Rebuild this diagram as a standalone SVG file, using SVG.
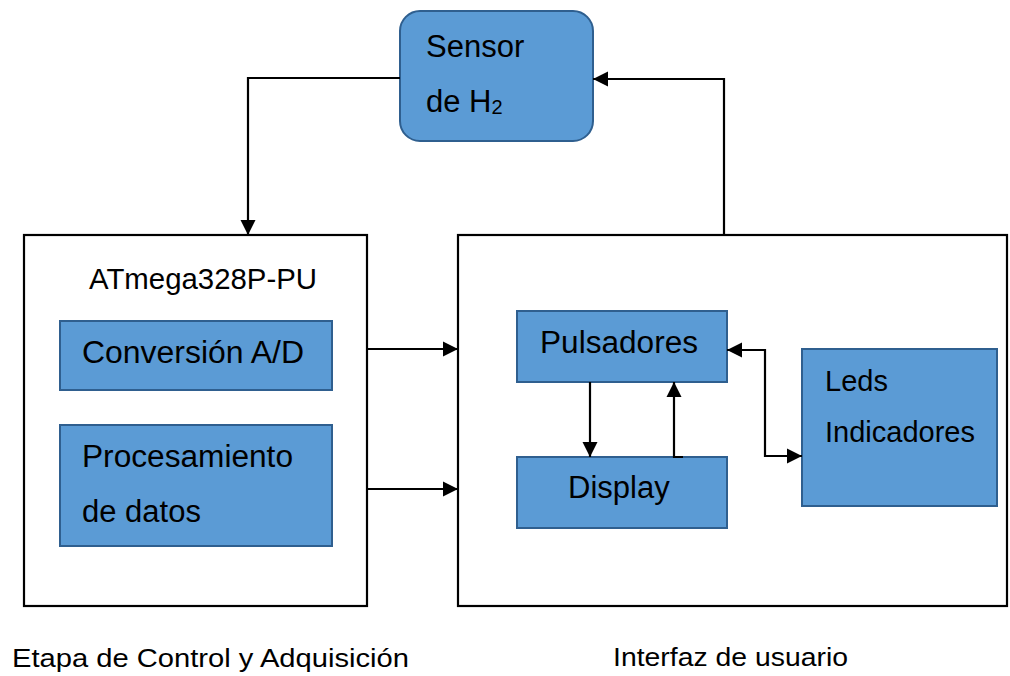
<svg xmlns="http://www.w3.org/2000/svg" width="1010" height="676" viewBox="0 0 1010 676">
<style>
.blk{fill:#5B9BD5;stroke:#2F5F8F;stroke-width:2}
.frame{fill:#FFFFFF;stroke:#000000;stroke-width:2.2}
.t{font-family:"Liberation Sans",Arial,sans-serif;fill:#000000;font-size:31px}
.c{fill:none;stroke:#000000;stroke-width:2.2}
</style>
<defs>
<marker id="ah" viewBox="0 0 10 10" refX="10" refY="5" markerWidth="7" markerHeight="7" orient="auto-start-reverse" markerUnits="strokeWidth">
<path d="M0,0 L10,5 L0,10 Z" fill="#000000"/>
</marker>
</defs>
<rect width="1010" height="676" fill="#FFFFFF"/>
<g id="etapa-control">
<rect class="frame" x="24" y="235" width="343" height="371"/>
<text class="t" x="89" y="289" style="font-size:29px" textLength="228" lengthAdjust="spacingAndGlyphs">ATmega328P-PU</text>
</g>
<g id="interfaz-usuario">
<rect class="frame" x="458" y="235" width="549" height="371"/>
</g>
<g id="sensor">
<rect class="blk" x="400" y="11" width="193" height="130" rx="20" ry="20"/>
<text class="t" x="426" y="57">Sensor</text>
<text class="t" x="426" y="112">de H<tspan style="font-size:20px" dy="2">2</tspan></text>
</g>
<g id="conversion">
<rect class="blk" x="60" y="321" width="272" height="69"/>
<text class="t" x="82" y="363" textLength="222" lengthAdjust="spacingAndGlyphs">Conversión A/D</text>
</g>
<g id="procesamiento">
<rect class="blk" x="60" y="425" width="272" height="121"/>
<text class="t" x="82" y="467" textLength="211" lengthAdjust="spacingAndGlyphs">Procesamiento</text>
<text class="t" x="82" y="522">de datos</text>
</g>
<g id="pulsadores">
<rect class="blk" x="517" y="311" width="210" height="71"/>
<text class="t" x="540" y="353" textLength="158" lengthAdjust="spacingAndGlyphs">Pulsadores</text>
</g>
<g id="display">
<rect class="blk" x="517" y="457" width="210" height="71"/>
<text class="t" x="568" y="498">Display</text>
</g>
<g id="leds">
<rect class="blk" x="802" y="349" width="195" height="157"/>
<text class="t" x="825" y="391" style="font-size:29px">Leds</text>
<text class="t" x="825" y="442" style="font-size:29px" textLength="150" lengthAdjust="spacingAndGlyphs">Indicadores</text>
</g>
<g id="connectors">
<path class="c" d="M400,78 H248 V235" marker-end="url(#ah)"/>
<path class="c" d="M724,235 V79 H593" marker-end="url(#ah)"/>
<path class="c" d="M367,349 H458" marker-end="url(#ah)"/>
<path class="c" d="M367,489 H458" marker-end="url(#ah)"/>
<path class="c" d="M590,382 V457" marker-end="url(#ah)"/>
<path class="c" d="M683,457 H674 V382" marker-end="url(#ah)"/>
<path class="c" d="M727,350 H765 V456 H802" marker-start="url(#ah)" marker-end="url(#ah)"/>
</g>
<g id="labels">
<text class="t" x="12" y="667" style="font-size:26px" textLength="397" lengthAdjust="spacingAndGlyphs">Etapa de Control y Adquisición</text>
<text class="t" x="613" y="666" style="font-size:26px" textLength="235" lengthAdjust="spacingAndGlyphs">Interfaz de usuario</text>
</g>
</svg>
